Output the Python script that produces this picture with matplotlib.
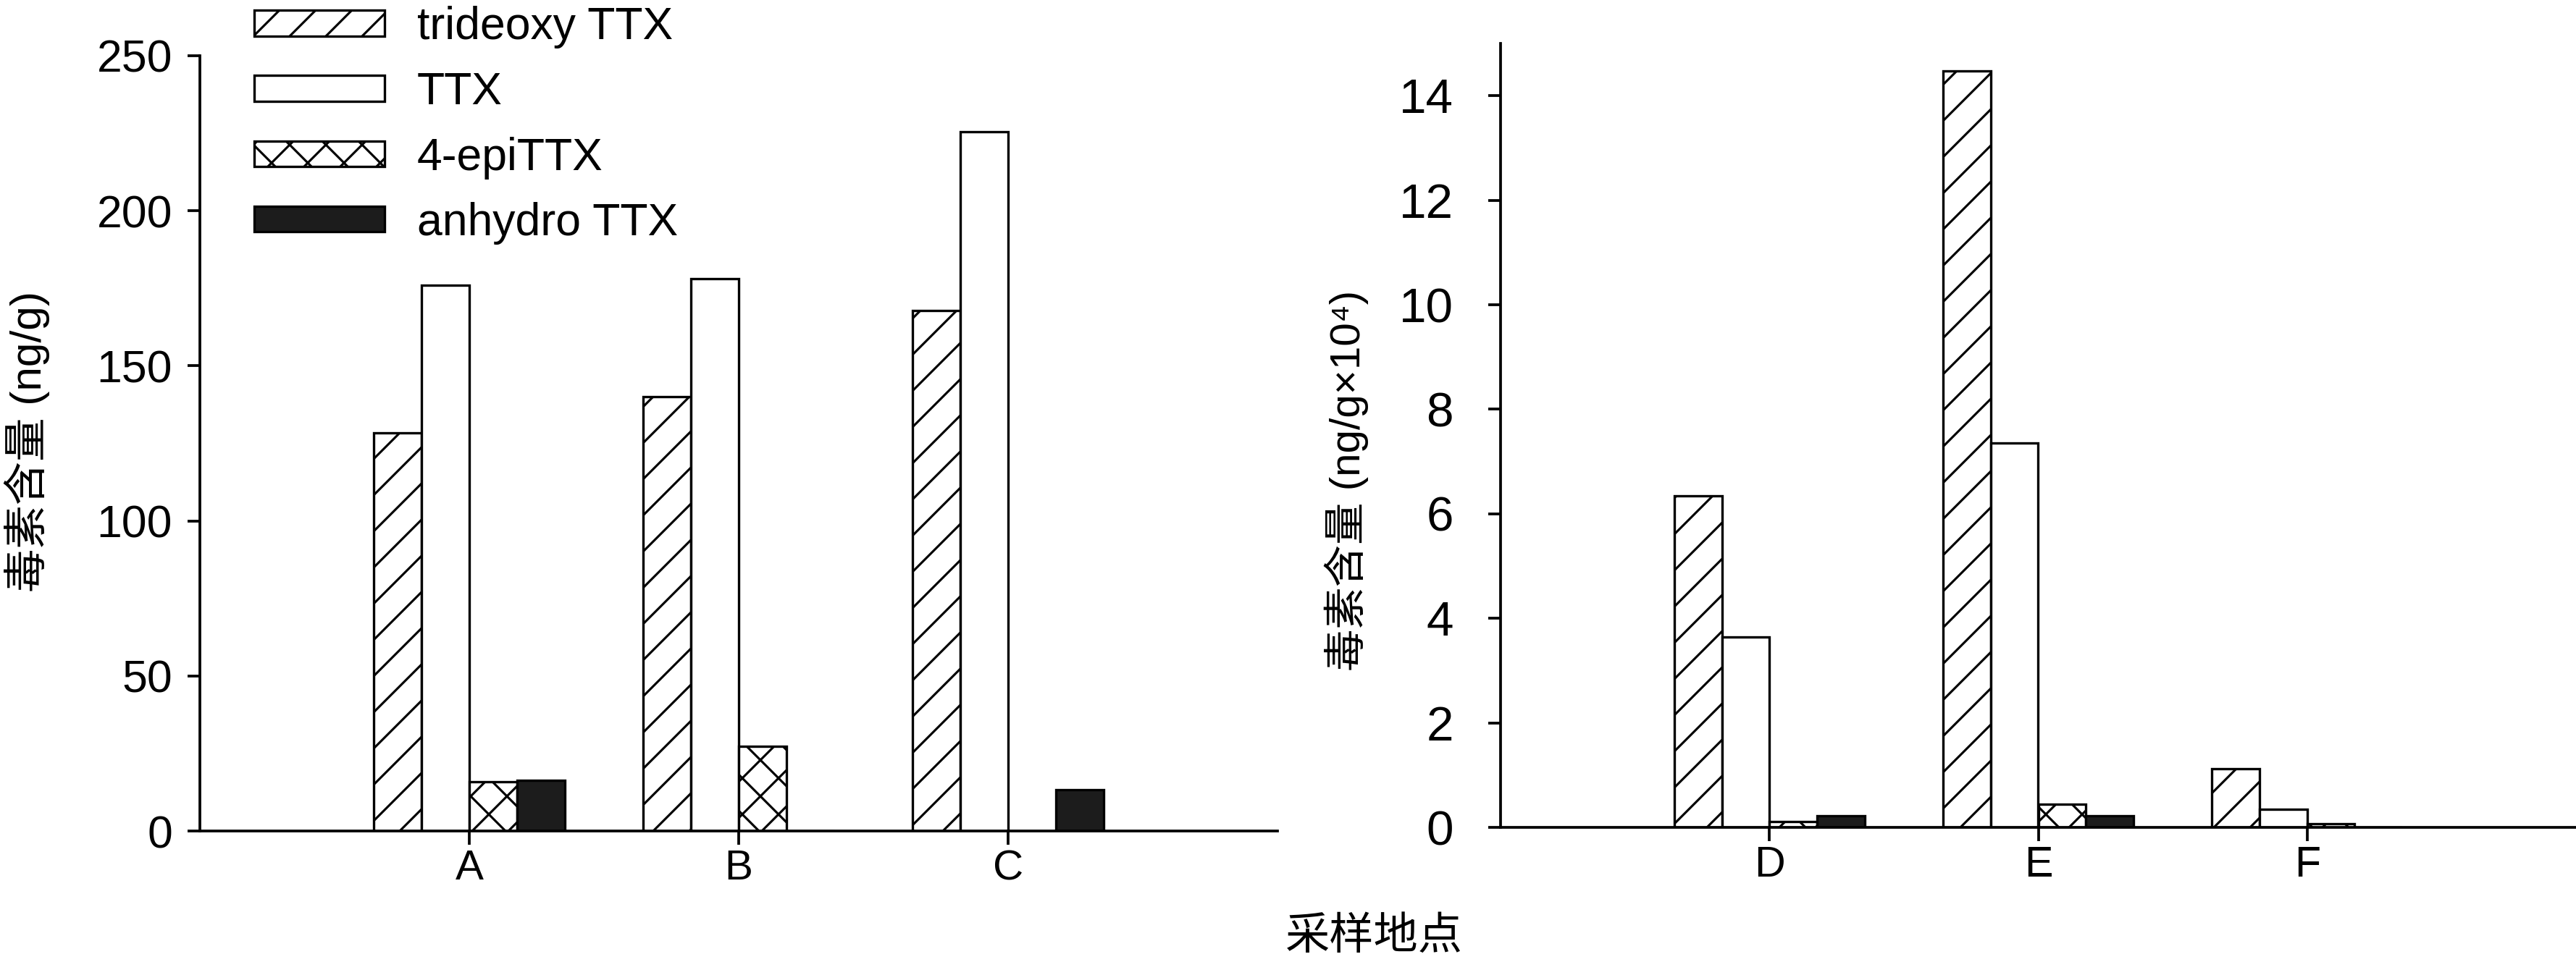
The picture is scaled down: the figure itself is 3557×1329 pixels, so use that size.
import numpy as np
import matplotlib
matplotlib.use("Agg")
import matplotlib.pyplot as plt

plt.rcParams['font.family'] = ['Liberation Sans', 'DejaVu Sans', 'Noto Sans CJK SC']
plt.rcParams['hatch.linewidth'] = 0.75

# ---------------- data ----------------
sites_left = ['A', 'B', 'C']
sites_right = ['D', 'E', 'F']
series = ['trideoxy TTX', 'TTX', '4-epiTTX', 'anhydro TTX']

left_trideoxy = [128.4, 140.1, 167.8]
left_ttx = [175.9, 178.2, 225.4]
left_epi = [15.9, 27.3, 0.0]
left_anhydro = [16.4, 0.0, 13.3]

right_trideoxy = [6.34, 14.47, 1.12]
right_ttx = [3.64, 7.36, 0.35]
right_epi = [0.11, 0.45, 0.07]
right_anhydro = [0.22, 0.22, 0.0]

left_yticks = [0, 50, 100, 150, 200, 250]
right_yticks = [0, 2, 4, 6, 8, 10, 12, 14]

ylabel_left = '毒素含量 (ng/g)'
ylabel_right = '毒素含量 (ng/g×10⁴)'
xlabel = '采样地点'

# ---------------- styles ----------------
styles = [
    dict(facecolor='white', edgecolor='black', hatch='//'),
    dict(facecolor='white', edgecolor='black', hatch=None),
    dict(facecolor='white', edgecolor='black', hatch='xx'),
    dict(facecolor='#1c1c1c', edgecolor='black', hatch=None),
]

W, H = 3557, 1329
dpi = 300
fig = plt.figure(figsize=(W / dpi, H / dpi), dpi=dpi)

def px_axes(x0, x1, ytop, ybot):
    return [x0 / W, 1 - ybot / H, (x1 - x0) / W, (ybot - ytop) / H]

axL = fig.add_axes(px_axes(276, 1764, 77, 1148))
axR = fig.add_axes(px_axes(2072, 3557, 60, 1143))

w = 0.177
lw_axis = 0.9

def draw(ax, cats, data, ylim, yticks, ytick_fs, ypad, xtick_fs):
    x = np.arange(1, len(cats) + 1)
    handles = []
    for i, (vals, st) in enumerate(zip(data, styles)):
        b = ax.bar(x + (i - 1.5) * w, vals, width=w, linewidth=0.8,
                   label=series[i], **st)
        handles.append(b)
    ax.set_xlim(0, 4)
    ax.set_ylim(*ylim)
    ax.set_xticks(x)
    ax.set_xticklabels(cats)
    ax.set_yticks(yticks)
    for s in ['top', 'right']:
        ax.spines[s].set_visible(False)
    for s in ['left', 'bottom']:
        ax.spines[s].set_linewidth(lw_axis)
    ax.tick_params(axis='y', direction='out', length=4.1, width=lw_axis,
                   labelsize=ytick_fs, pad=ypad)
    ax.tick_params(axis='x', direction='out', length=4.6, width=lw_axis,
                   labelsize=xtick_fs, pad=1.5)
    return handles

handles = draw(axL, sites_left, [left_trideoxy, left_ttx, left_epi, left_anhydro],
               (0, 250), left_yticks, 15.0, 5.0, 14.0)
draw(axR, sites_right, [right_trideoxy, right_ttx, right_epi, right_anhydro],
     (0, 15), right_yticks, 16.2, 11.5, 14.2)

axL.set_ylabel(ylabel_left, fontsize=14.5, va='center', ha='center')
axL.yaxis.set_label_coords(-0.1606, 0.502)
axR.set_ylabel(ylabel_right, fontsize=14.0, va='center', ha='center')
axR.yaxis.set_label_coords(-0.1434, 0.442)

fig.text(1897 / W, 1 - 1295 / H, xlabel, fontsize=14.7, ha='center', va='center')

fig.legend(handles=handles, labels=series, loc='upper left',
           bbox_to_anchor=(351 / W, 1 - 8 / H), frameon=False, fontsize=15.0,
           handlelength=2.88, handleheight=0.5, handletextpad=0.72,
           labelspacing=0.5, borderpad=0, borderaxespad=0)

fig.savefig('out.png', dpi=dpi)
